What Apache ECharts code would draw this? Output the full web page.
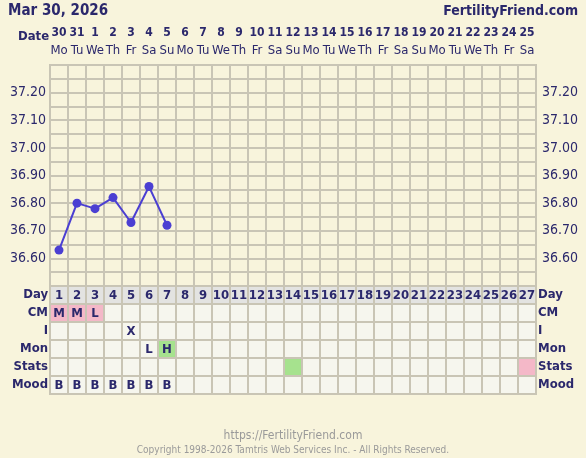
<!DOCTYPE html>
<html>
<head>
<meta charset="utf-8">
<style>
  html, body { margin: 0; padding: 0; background: #f8f4dc; }
  #chart { width: 586px; height: 458px; }
</style>
<script src="https://cdn.jsdelivr.net/npm/echarts@6/dist/echarts.min.js"></script>
</head>
<body>
<div id="chart"></div>
<script>
// chart data
const cycleDays = ['1', '2', '3', '4', '5', '6', '7', '8', '9', '10', '11', '12', '13', '14',
  '15', '16', '17', '18', '19', '20', '21', '22', '23', '24', '25', '26', '27']
const dateNums = ['30', '31', '1', '2', '3', '4', '5', '6', '7', '8', '9', '10', '11', '12',
  '13', '14', '15', '16', '17', '18', '19', '20', '21', '22', '23', '24', '25']
const weekDays = ['Mo', 'Tu', 'We', 'Th', 'Fr', 'Sa', 'Su', 'Mo', 'Tu', 'We', 'Th', 'Fr', 'Sa', 'Su',
  'Mo', 'Tu', 'We', 'Th', 'Fr', 'Sa', 'Su', 'Mo', 'Tu', 'We', 'Th', 'Fr', 'Sa']
const temps = [36.63, 36.80, 36.78, 36.82, 36.73, 36.86, 36.72]
const rowNames = ['Day', 'CM', 'I', 'Mon', 'Stats', 'Mood']
const cmRow = ['M', 'M', 'L']
const cmMarks = ['p', 'p', 'p']
const intercourseRow = ['', '', '', '', 'X']
const monRow = ['', '', '', '', '', 'L', 'H']
const monMarks = ['', '', '', '', '', '', 'g']
const statsMarks = ['', '', '', '', '', '', '', '', '', '', '', '', '', 'g',
  '', '', '', '', '', '', '', '', '', '', '', '', 'p']
const moodRow = ['B', 'B', 'B', 'B', 'B', 'B', 'B']

const navy = '#2b286c'
const gridColor = '#c9c5b5'
const markColors = { p: '#f4b8c8', g: '#a6e28e' }
const font = '"DejaVu Sans Condensed", "DejaVu Sans", sans-serif'

// build table cells from the rows
const rowTexts = [cycleDays, cmRow, intercourseRow, monRow, [], moodRow]
const rowMarks = [[], cmMarks, [], monMarks, statsMarks, []]
const cells = []
rowNames.forEach((name, r) => {
  cycleDays.forEach((d, i) => {
    const mark = rowMarks[r][i]
    cells.push({
      pos: [i, r],
      text: rowTexts[r][i] || '',
      fill: mark ? markColors[mark] : (r === 0 ? '#e3e3e1' : '#f6f6ee')
    })
  })
})

const chart = echarts.init(document.getElementById('chart'))

const tempLabel = v => {
  const c = Math.round(v * 100)
  if (c % 10 !== 0 || c < 3660 || c > 3720) return ''
  return (c / 100).toFixed(2)
}

chart.setOption({
  backgroundColor: '#f8f4dc',
  animation: false,
  textStyle: { fontFamily: font },
  title: [
    {
      text: 'Mar 30, 2026', left: 3, top: -1,
      textStyle: { color: navy, fontSize: 15, fontWeight: 'bold', fontFamily: font }
    },
    {
      text: 'FertilityFriend.com', right: 3, top: -1,
      textStyle: { color: navy, fontSize: 14, fontWeight: 'bold', fontFamily: font }
    },
    {
      text: 'https://FertilityFriend.com', left: 'center', top: 425,
      textStyle: { color: '#9a9a9a', fontSize: 12, fontWeight: 'normal', fontFamily: font }
    },
    {
      text: 'Copyright 1998-2026 Tamtris Web Services Inc. - All Rights Reserved.', left: 'center', top: 440,
      textStyle: { color: '#9a9a9a', fontSize: 10, fontWeight: 'normal', fontFamily: font }
    }
  ],
  graphic: [{
    type: 'text', left: 18, top: 30,
    style: { text: 'Date', fill: navy, font: 'bold 13px ' + font }
  }],
  grid: [
    { left: 50, top: 65, width: 486, height: 221, show: true, borderColor: gridColor, borderWidth: 2, backgroundColor: 'transparent' },
    { left: 50, top: 286, width: 486, height: 108 }
  ],
  xAxis: [
    {
      gridIndex: 0,
      type: 'category',
      position: 'top',
      data: cycleDays,
      boundaryGap: true,
      axisLine: { lineStyle: { color: gridColor, width: 2 } },
      axisTick: { show: false },
      splitLine: { show: true, interval: 0, lineStyle: { color: gridColor, width: 2 } },
      axisLabel: {
        interval: 0,
        margin: 5,
        formatter: (v, i) => '{d|' + dateNums[i] + '}\n{w|' + weekDays[i] + '}',
        rich: {
          d: { color: navy, fontSize: 12, fontWeight: 'bold', lineHeight: 18, fontFamily: font },
          w: { color: navy, fontSize: 13, lineHeight: 18, fontFamily: font }
        }
      }
    },
    {
      gridIndex: 1,
      type: 'category',
      data: cycleDays,
      boundaryGap: true,
      axisLine: { show: false },
      axisTick: { show: false },
      axisLabel: { show: false }
    }
  ],
  yAxis: [
    {
      gridIndex: 0,
      type: 'value',
      min: 36.5, max: 37.3, interval: 0.05,
      axisLine: { show: false },
      axisTick: { show: false },
      splitLine: { lineStyle: { color: gridColor, width: 2 } },
      axisLabel: { formatter: tempLabel, color: navy, fontSize: 14, margin: 4 }
    },
    {
      gridIndex: 0,
      type: 'value',
      position: 'right',
      min: 36.5, max: 37.3, interval: 0.05,
      axisLine: { show: false },
      axisTick: { show: false },
      splitLine: { show: false },
      axisLabel: { formatter: tempLabel, color: navy, fontSize: 14, margin: 6 }
    },
    {
      gridIndex: 1,
      type: 'category',
      data: rowNames,
      inverse: true,
      axisLine: { show: false },
      axisTick: { show: false },
      axisLabel: { color: navy, fontSize: 13, fontWeight: 'bold', margin: 2 }
    },
    {
      gridIndex: 1,
      type: 'category',
      position: 'right',
      data: rowNames,
      inverse: true,
      axisLine: { show: false },
      axisTick: { show: false },
      axisLabel: { color: navy, fontSize: 13, fontWeight: 'bold', margin: 2 }
    }
  ],
  series: [
    {
      type: 'line',
      xAxisIndex: 0,
      yAxisIndex: 0,
      data: temps,
      symbol: 'circle',
      symbolSize: 9,
      itemStyle: { color: '#4b3fd2' },
      lineStyle: { color: '#4b3fd2', width: 2 },
      z: 5
    },
    {
      type: 'custom',
      xAxisIndex: 1,
      yAxisIndex: 2,
      data: cells.map(c => c.pos),
      renderItem(params, api) {
        const cell = cells[params.dataIndex]
        const c = api.coord([api.value(0), api.value(1)])
        const s = api.size([1, 1])
        return {
          type: 'group',
          children: [
            {
              type: 'rect',
              shape: { x: c[0] - s[0] / 2, y: c[1] - s[1] / 2, width: s[0], height: s[1] },
              style: { fill: cell.fill, stroke: gridColor, lineWidth: 2 }
            },
            {
              type: 'text',
              style: {
                text: cell.text, x: c[0], y: c[1] + 1,
                align: 'center', verticalAlign: 'middle',
                fill: navy, font: 'bold 13px ' + font
              }
            }
          ]
        }
      }
    }
  ]
})
</script>
</body>
</html>
